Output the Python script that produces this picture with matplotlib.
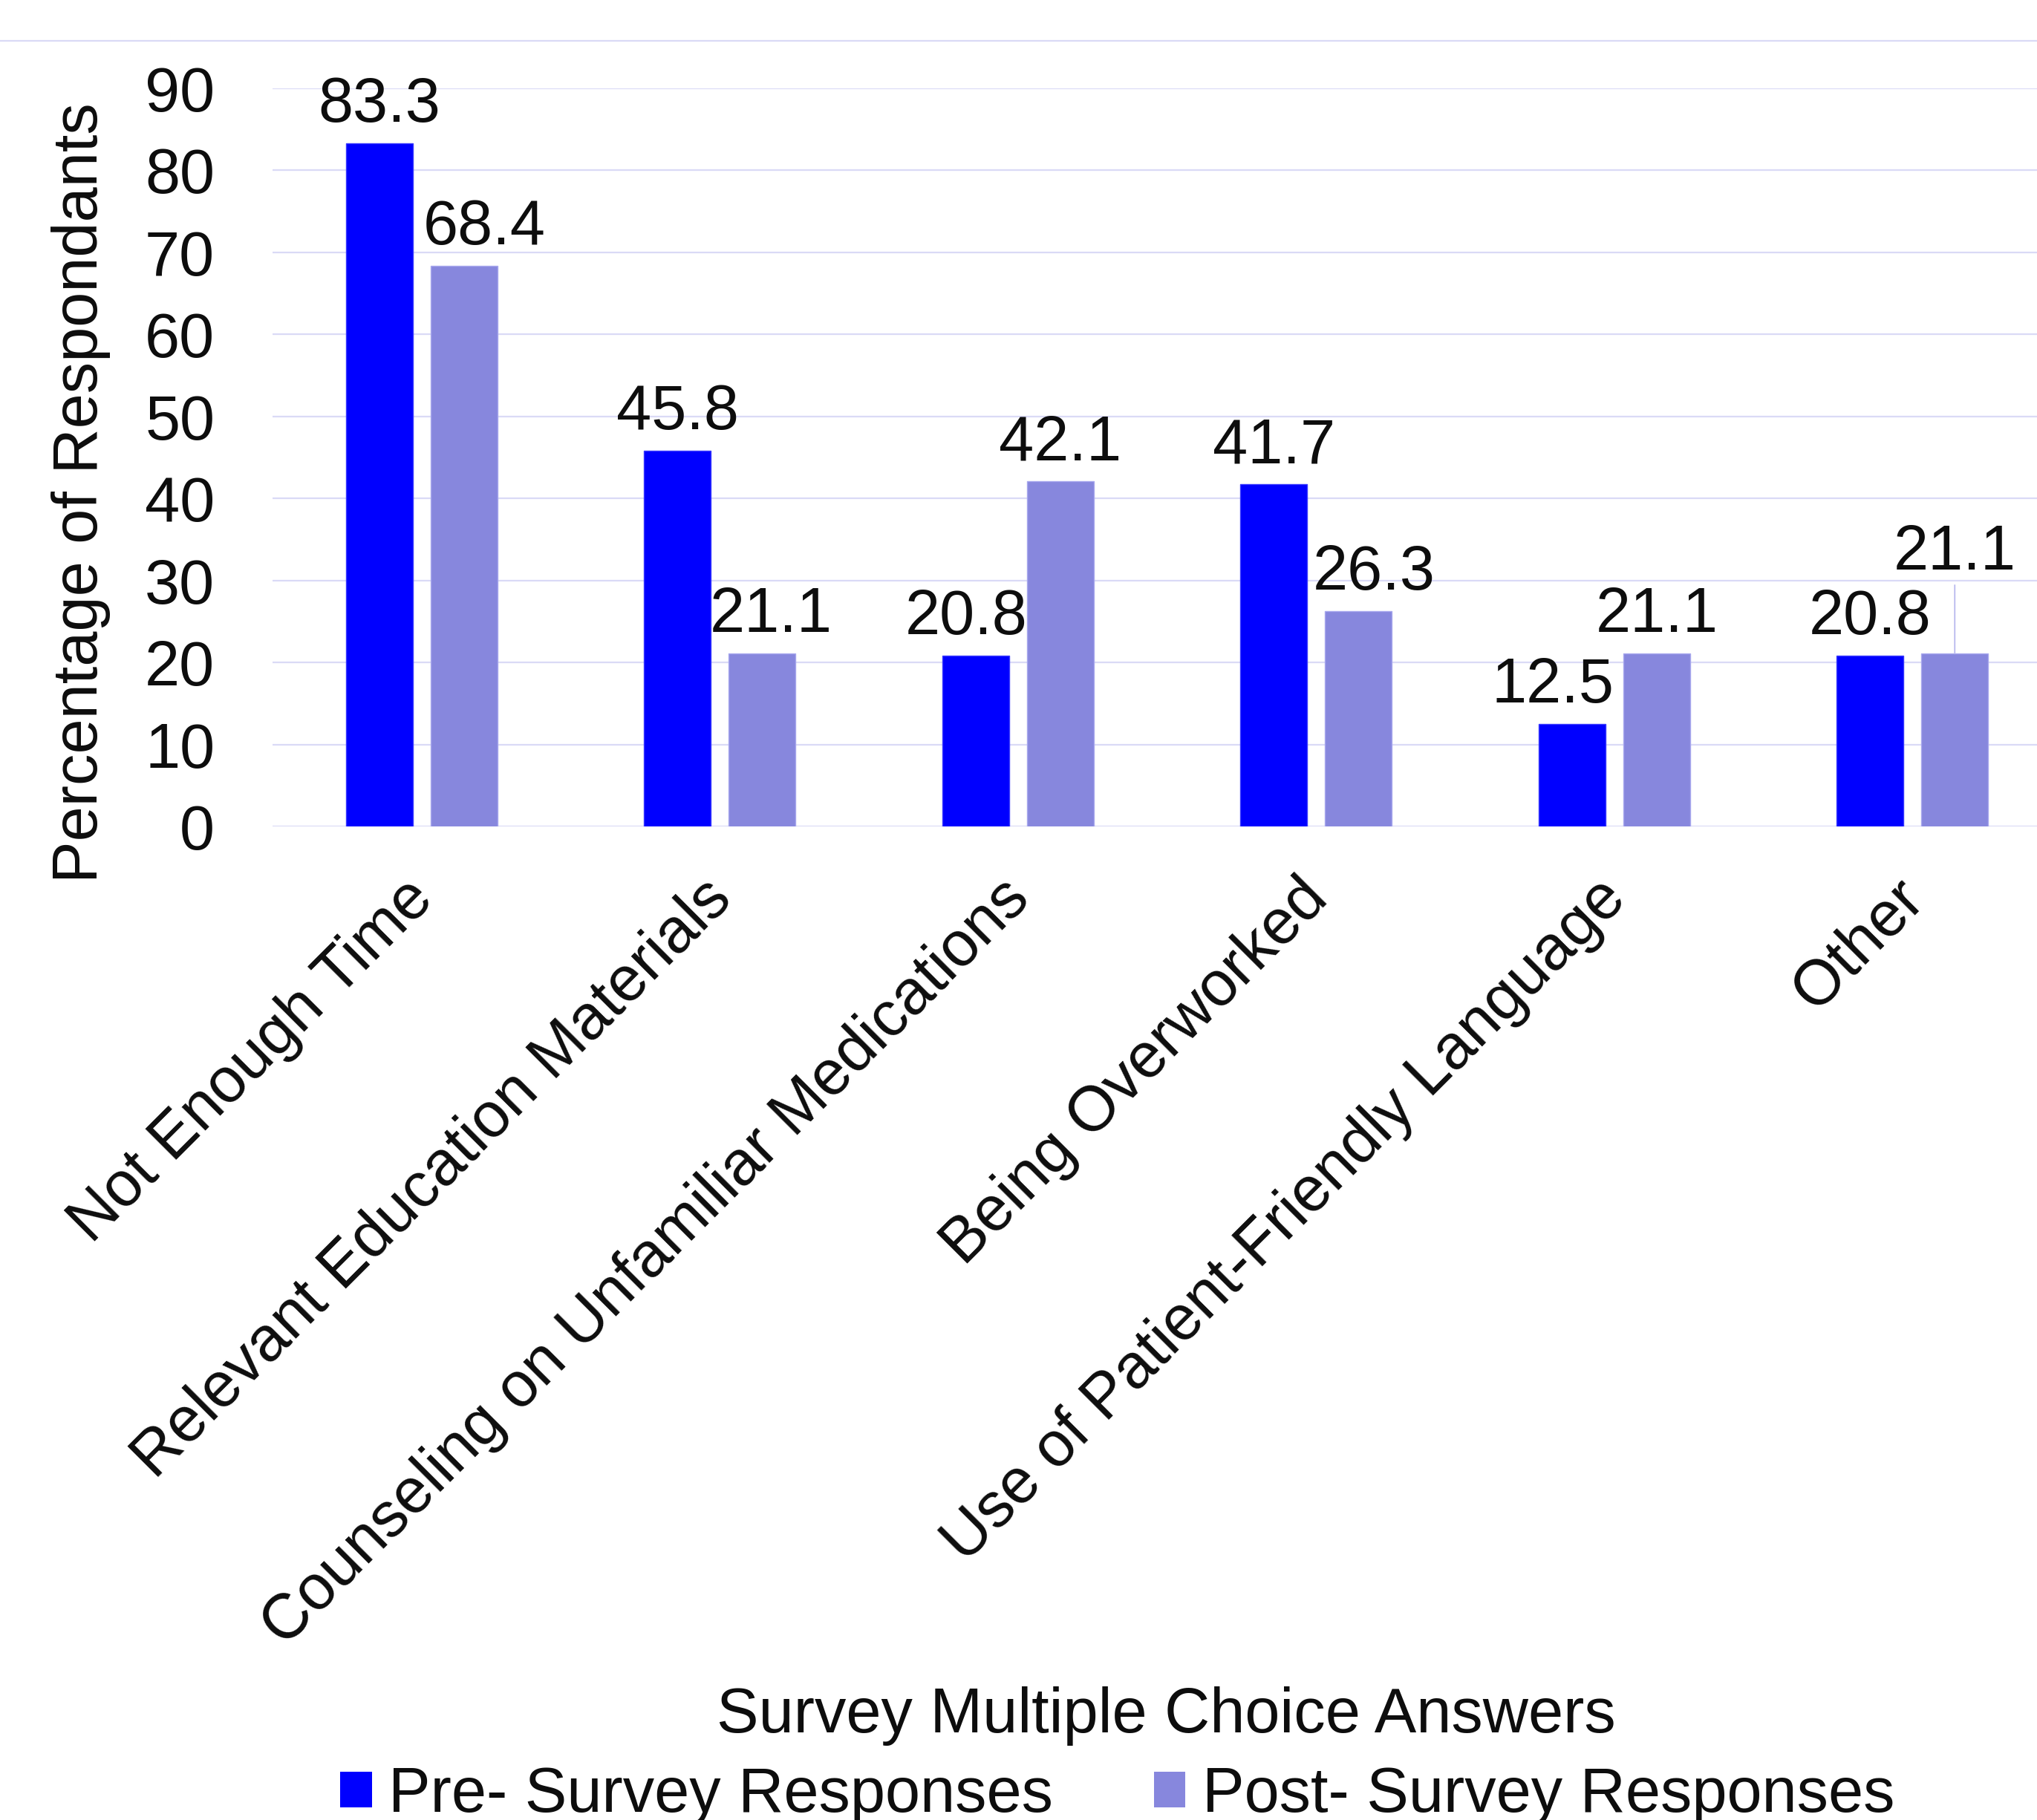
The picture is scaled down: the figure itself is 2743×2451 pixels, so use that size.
import matplotlib
matplotlib.use("Agg")
import matplotlib.pyplot as plt
import numpy as np
from matplotlib.lines import Line2D
from matplotlib.patches import Patch
from matplotlib.transforms import ScaledTranslation

plt.rcParams['font.family'] = ['Liberation Sans', 'DejaVu Sans']

categories = ["Not Enough Time", "Relevant Education Materials",
              "Counseling on Unfamiliar Medications", "Being Overworked",
              "Use of Patient-Friendly Language", "Other"]
pre_values = [83.3, 45.8, 20.8, 41.7, 12.5, 20.8]
post_values = [68.4, 21.1, 42.1, 26.3, 21.1, 21.1]
series_names = ["Pre- Survey Responses", "Post- Survey Responses"]
y_ticks = [0, 10, 20, 30, 40, 50, 60, 70, 80, 90]

# label nudges in pixels (layout only)
pre_dx = [0, 0, -13, 0, -26, 0]
post_dx = [27, 12, 0, 21, 0, 0]
post_dy = [0, 0, 0, 0, 0, 84]

W, H = 2743, 2451
DPI = 100
FS = 61
TXT = '#0D0D0D'
GRID = '#DADAF6'
PRE_C = '#0000FF'
POST_C = '#8787DD'

fig = plt.figure(figsize=(W / DPI, H / DPI), dpi=DPI)
ax = fig.add_axes([367 / W, (H - 1113) / H, 2409 / W, 994 / H])

x = np.arange(len(categories))
bw = 0.224
off = 0.142
ax.bar(x - off, pre_values, bw, color=PRE_C, edgecolor='#3A3AFF', linewidth=1.0, zorder=3)
ax.bar(x + off, post_values, bw, color=POST_C, edgecolor='#A9A9EE', linewidth=1.0, zorder=3)

ax.set_xlim(-0.5, 5.5)
ax.set_ylim(0, 90)
ax.set_yticks(y_ticks)
ax.set_yticklabels([str(t) for t in y_ticks])
ax.yaxis.grid(True, color=GRID, linewidth=1.6, zorder=0)
ax.set_axisbelow(True)
for s in ax.spines.values():
    s.set_visible(False)
ax.tick_params(axis='y', length=0, pad=56, labelsize=FS, labelcolor=TXT)
ax.tick_params(axis='x', length=0, pad=61, labelsize=FS, labelcolor=TXT)
ax.set_xticks(x)
ax.set_xticklabels(categories, rotation=45, ha='right', va='center', rotation_mode='anchor')
for lab in ax.get_xticklabels():
    lab.set_transform(lab.get_transform() + ScaledTranslation(3 / DPI, 0, fig.dpi_scale_trans))

# data labels
pt = 72 / DPI
lift = 29
for xi, v, dx in zip(x - off, pre_values, pre_dx):
    ax.annotate(f"{v:.1f}", (xi, v), xytext=(dx * pt, lift * pt), textcoords='offset points',
                ha='center', va='baseline', fontsize=FS, color=TXT, zorder=5)
for xi, v, dx, dy in zip(x + off, post_values, post_dx, post_dy):
    ax.annotate(f"{v:.1f}", (xi, v), xytext=(dx * pt, (lift + dy) * pt), textcoords='offset points',
                ha='center', va='baseline', fontsize=FS, color=TXT, zorder=5)
    if dy > 0:
        ax.annotate("", (xi, v), xytext=(0, (lift + dy - 21) * pt), textcoords='offset points',
                    arrowprops=dict(arrowstyle='-', color='#B8B8EE', lw=1.3,
                                    shrinkA=0, shrinkB=0), zorder=4)

# axis titles
fig.text(131 / W, 1 - 664 / H, "Percentage of Respondants", rotation=90,
         ha='center', va='baseline', rotation_mode='anchor', fontsize=FS, color=TXT)
fig.text(1570 / W, 1 - 2333 / H, "Survey Multiple Choice Answers",
         ha='center', va='baseline', fontsize=FS, color=TXT)

# top separator line
fig.add_artist(Line2D([0, 1], [1 - 55 / H, 1 - 55 / H], transform=fig.transFigure,
                      color=GRID, linewidth=1.6))

# legend
handles = [Patch(facecolor=PRE_C, edgecolor='none'), Patch(facecolor=POST_C, edgecolor='none')]
fig.legend(handles, series_names, loc='center', bbox_to_anchor=(1505 / W, 1 - 2418 / H),
           ncol=2, frameon=False, fontsize=FS, handlelength=0.5, handleheight=0.5,
           handletextpad=0.27, columnspacing=1.6, borderpad=0, borderaxespad=0,
           labelcolor=TXT)

fig.savefig("out.png", dpi=DPI)
